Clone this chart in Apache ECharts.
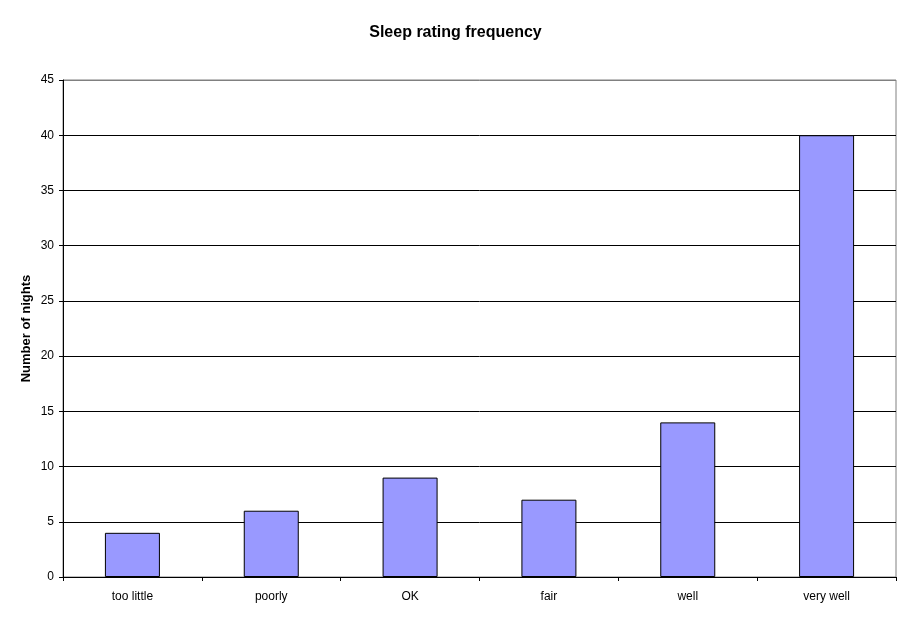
<!DOCTYPE html>
<html><head><meta charset="utf-8">
<script src="https://cdn.jsdelivr.net/npm/echarts@6/dist/echarts.min.js"></script>
<style>html,body{margin:0;padding:0;background:#fff}#c{width:911px;height:623px}</style>
</head><body><div id="c"></div>
<script>
const categories = ['too little', 'poorly', 'OK', 'fair', 'well', 'very well'];
const nights = [4, 6, 9, 7, 14, 40];
const yTicks = [0, 5, 10, 15, 20, 25, 30, 35, 40, 45];

const chart = echarts.init(document.getElementById('c'));
const font = '"Liberation Sans", Arial, sans-serif';
chart.setOption({
  animation: false,
  backgroundColor: '#fff',
  title: {
    text: 'Sleep rating frequency', left: 'center', top: 20,
    textStyle: { fontFamily: font, fontSize: 16, fontWeight: 'bold', color: '#000' }
  },
  grid: { left: 63, right: 15, top: 80, bottom: 46, show: true, borderColor: '#808080', borderWidth: 1, backgroundColor: '#fff' },
  xAxis: {
    type: 'category', data: categories,
    axisLine: { lineStyle: { color: '#000', width: 1 } },
    axisTick: { show: true, length: 4, lineStyle: { color: '#000' } },
    axisLabel: { fontFamily: font, fontSize: 12, color: '#000', margin: 14 },
    splitLine: { show: false }
  },
  yAxis: {
    type: 'value', min: yTicks[0], max: yTicks[yTicks.length - 1], interval: 5,
    name: 'Number of nights', nameLocation: 'middle', nameGap: 30, nameRotate: 90,
    nameMoveOverlap: false,
    nameTextStyle: { fontFamily: font, fontSize: 13, fontWeight: 'bold', color: '#000' },
    axisLine: { show: true, lineStyle: { color: '#000', width: 1 } },
    axisTick: { show: true, length: 4, lineStyle: { color: '#000' } },
    axisLabel: { fontFamily: font, fontSize: 12, color: '#000', margin: 9 },
    splitLine: { show: true, lineStyle: { color: ['#000','#000','#000','#000','#000','#000','#000','#000','#000','#808080'], width: 1 } }
  },
  series: [{
    type: 'bar', data: nights, barWidth: 55,
    itemStyle: { color: '#9999FF', borderColor: '#000', borderWidth: 1 }
  }]
});
</script></body></html>
